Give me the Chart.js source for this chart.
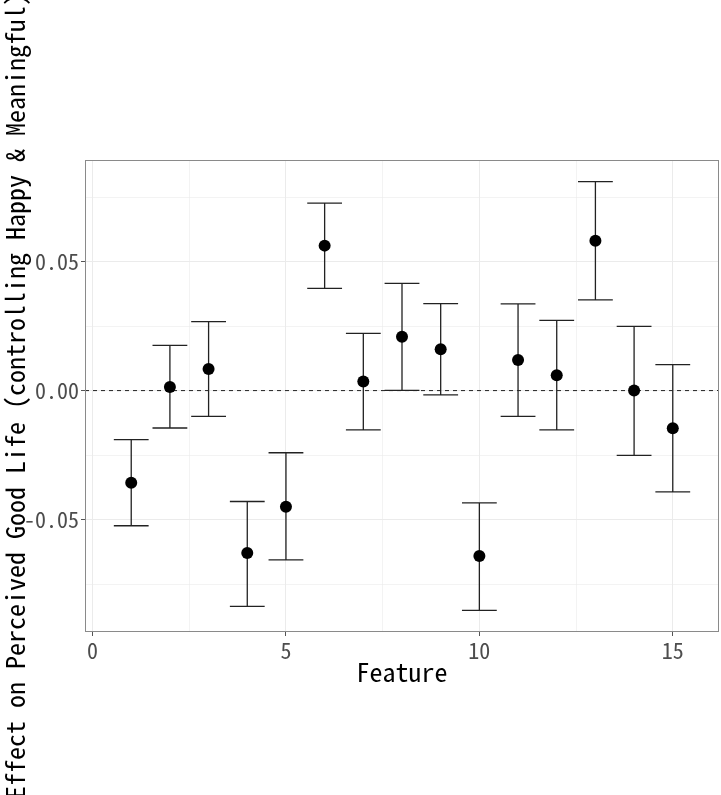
<!DOCTYPE html>
<html>
<head>
<meta charset="utf-8">
<script src="https://cdn.jsdelivr.net/npm/chart.js@4/dist/chart.umd.min.js"></script>
<style>
  body { margin: 0; background: #fff; }
  #wrap { width: 721px; height: 795px; }
</style>
</head>
<body>
<div id="wrap"><canvas id="chart" width="721" height="795"></canvas></div>
<script>
const features = [1, 2, 3, 4, 5, 6, 7, 8, 9, 10, 11, 12, 13, 14, 15];
const effects = [-0.0357, 0.0014, 0.0084, -0.0630, -0.0450, 0.0562, 0.0035, 0.0209, 0.0160, -0.0641, 0.0119, 0.0059, 0.0581, 0.0000, -0.0146];
const upperCI = [-0.0190, 0.0175, 0.0267, -0.0430, -0.0241, 0.0727, 0.0222, 0.0416, 0.0337, -0.0435, 0.0336, 0.0272, 0.0810, 0.0249, 0.0101];
const lowerCI = [-0.0524, -0.0145, -0.0100, -0.0837, -0.0656, 0.0396, -0.0152, 0.0001, -0.0017, -0.0852, -0.0100, -0.0152, 0.0352, -0.0251, -0.0393];

const xMajorTicks = [0, 5, 10, 15];
const xMinorTicks = [2.5, 7.5, 12.5];
const yMajorTicks = [-0.05, 0, 0.05];
const yMinorTicks = [-0.075, -0.025, 0.025, 0.075];

const FONT = '"Noto Sans Mono CJK JP", "Noto Sans CJK JP", "DejaVu Sans Mono", monospace';
const capHalf = 0.45;

function isMajor(v, list) {
    return list.some(t => Math.abs(t - v) < 1e-9);
}

const errorBars = {
    id: 'errorBars',
    beforeDatasetsDraw(chart) {
        const { ctx, chartArea, scales: { x, y } } = chart;
        ctx.save();
        // zero reference line
        ctx.strokeStyle = '#222';
        ctx.lineWidth = 1;
        ctx.setLineDash([4, 4]);
        const y0 = y.getPixelForValue(0);
        ctx.beginPath();
        ctx.moveTo(chartArea.left, y0);
        ctx.lineTo(chartArea.right, y0);
        ctx.stroke();
        ctx.setLineDash([]);

        ctx.strokeStyle = '#222';
        ctx.lineWidth = 1.3;
        features.forEach((f, i) => {
            const px = x.getPixelForValue(f);
            const pl = x.getPixelForValue(f - capHalf);
            const pr = x.getPixelForValue(f + capHalf);
            const pu = y.getPixelForValue(upperCI[i]);
            const pd = y.getPixelForValue(lowerCI[i]);
            ctx.beginPath();
            ctx.moveTo(px, pu); ctx.lineTo(px, pd);
            ctx.moveTo(pl, pu); ctx.lineTo(pr, pu);
            ctx.moveTo(pl, pd); ctx.lineTo(pr, pd);
            ctx.stroke();
        });

        // panel border
        ctx.strokeStyle = '#8a8a8a';
        ctx.lineWidth = 1;
        ctx.strokeRect(chartArea.left + 0.5, chartArea.top + 0.5,
            chartArea.right - chartArea.left - 1, chartArea.bottom - chartArea.top - 1);
        ctx.restore();
    }
};

new Chart(document.getElementById('chart'), {
    type: 'scatter',
    data: {
        datasets: [{
            data: features.map((f, i) => ({ x: f, y: effects[i] })),
            backgroundColor: '#000',
            borderWidth: 0,
            pointRadius: 6,
            pointHoverRadius: 6
        }]
    },
    options: {
        responsive: false,
        animation: false,
        layout: { autoPadding: false, padding: { left: 0, top: 160, right: 2, bottom: 107 } },
        plugins: { legend: { display: false }, tooltip: { enabled: false } },
        scales: {
            x: {
                type: 'linear',
                min: -0.195,
                max: 16.195,
                afterBuildTicks: axis => {
                    axis.ticks = xMajorTicks.concat(xMinorTicks).sort((a, b) => a - b).map(v => ({ value: v }));
                },
                afterFit: axis => {
                    axis.height = 56;
                    axis.paddingLeft = 0;
                    axis.paddingRight = 0;
                },
                border: { display: false },
                grid: {
                    color: '#ebebeb',
                    lineWidth: c => isMajor(c.tick.value, xMajorTicks) ? 1 : 0.6,
                    tickColor: c => isMajor(c.tick.value, xMajorTicks) ? '#555' : 'rgba(0,0,0,0)',
                    tickLength: 4
                },
                ticks: {
                    autoSkip: false,
                    maxRotation: 0,
                    padding: 1,
                    color: '#4d4d4d',
                    font: { family: FONT, size: 22 },
                    callback: v => isMajor(v, xMajorTicks) ? String(v) : ''
                },
                title: {
                    display: true,
                    text: 'Feature',
                    color: '#000',
                    padding: 0,
                    font: { family: FONT, size: 26 }
                }
            },
            y: {
                type: 'linear',
                min: -0.0936,
                max: 0.0894,
                afterBuildTicks: axis => {
                    axis.ticks = yMajorTicks.concat(yMinorTicks).sort((a, b) => a - b).map(v => ({ value: v }));
                },
                afterFit: axis => {
                    axis.width = 85;
                    axis.paddingTop = 0;
                    axis.paddingBottom = 0;
                },
                border: { display: false },
                grid: {
                    color: '#ebebeb',
                    lineWidth: c => isMajor(c.tick.value, yMajorTicks) ? 1 : 0.6,
                    tickColor: c => isMajor(c.tick.value, yMajorTicks) ? '#555' : 'rgba(0,0,0,0)',
                    tickLength: 4
                },
                ticks: {
                    autoSkip: false,
                    padding: 2,
                    color: '#4d4d4d',
                    font: { family: FONT, size: 22 },
                    callback: v => isMajor(v, yMajorTicks) ? v.toFixed(2) : ''
                },
                title: {
                    display: true,
                    text: 'Effect on Perceived Good Life (controlling Happy & Meaningful)',
                    color: '#000',
                    padding: 0,
                    font: { family: FONT, size: 26 }
                }
            }
        }
    },
    plugins: [errorBars]
});
</script>
</body>
</html>
